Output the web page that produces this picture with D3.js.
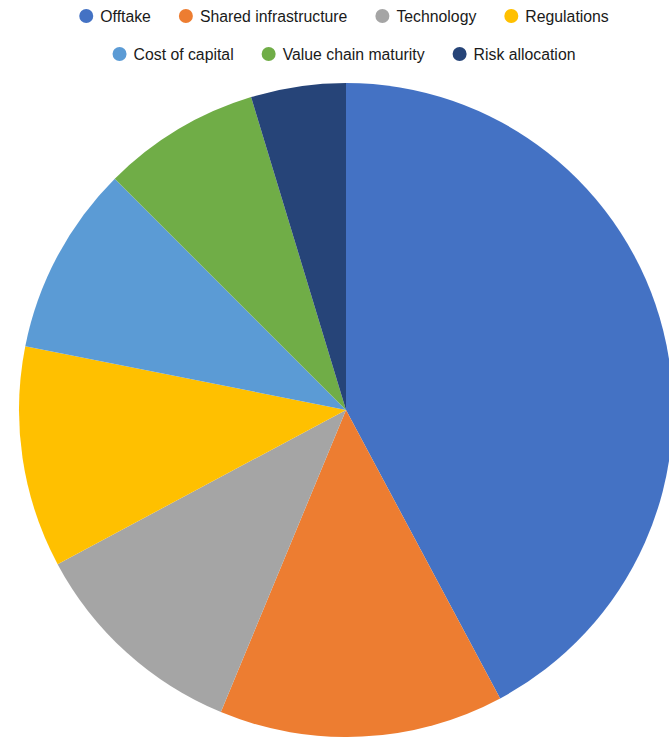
<!DOCTYPE html>
<html>
<head>
<meta charset="utf-8">
<script src="https://cdn.jsdelivr.net/npm/d3@7"></script>
<style>
  html, body { margin: 0; padding: 0; background: #fff; }
  svg { display: block; }
</style>
</head>
<body>
<svg id="chart" width="669" height="737"></svg>
<script>
// Factors and their counts
const categories = ["Offtake", "Shared infrastructure", "Technology", "Regulations", "Cost of capital", "Value chain maturity", "Risk allocation"];
const values = [27, 9, 7, 7, 6, 5, 3];
const colors = ["#4472C4", "#ED7D31", "#A5A5A5", "#FFC000", "#5B9BD5", "#70AD47", "#264478"];
const legendRows = [[0, 1, 2, 3], [4, 5, 6]];

const svg = d3.select("#chart");
const cx = 346, cy = 410, radius = 327;

const color = d3.scaleOrdinal().domain(categories).range(colors);

const pie = d3.pie().sort(null).value(d => d.value);
const arc = d3.arc().innerRadius(0).outerRadius(radius);
const data = categories.map((c, i) => ({ name: c, value: values[i] }));

svg.append("g")
  .attr("transform", `translate(${cx},${cy})`)
  .selectAll("path")
  .data(pie(data))
  .join("path")
  .attr("d", arc)
  .attr("fill", d => color(d.data.name));

// Legend, one centred row at a time
const font = "'Liberation Sans', Arial, sans-serif";
const legendCenter = 344;
const rowY = [16, 54];
const r = 7, textGap = 7, itemGap = 28;

legendRows.forEach((row, ri) => {
  const g = svg.append("g");
  let x = 0;
  row.forEach(i => {
    const item = g.append("g").attr("transform", `translate(${x},0)`);
    item.append("circle").attr("cx", r).attr("cy", 0).attr("r", r).attr("fill", colors[i]);
    const t = item.append("text")
      .attr("x", 2 * r + textGap)
      .attr("y", 0)
      .attr("dy", "0.35em")
      .attr("font-family", font)
      .attr("font-size", 15.8)
      .attr("fill", "#1a1a1a")
      .text(categories[i]);
    x += 2 * r + textGap + t.node().getComputedTextLength() + itemGap;
  });
  const total = x - itemGap;
  g.attr("transform", `translate(${legendCenter - total / 2},${rowY[ri]})`);
});
</script>
</body>
</html>
